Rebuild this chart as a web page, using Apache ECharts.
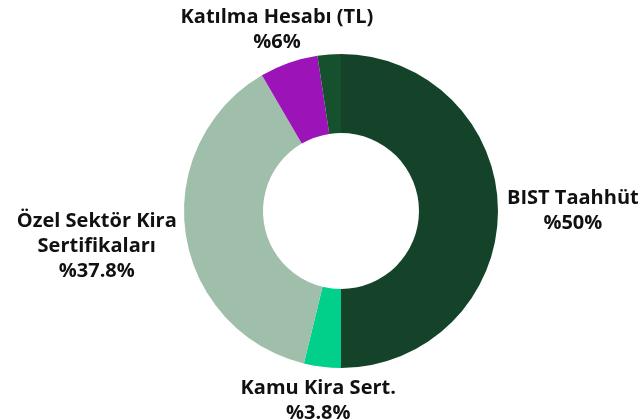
<!DOCTYPE html>
<html>
<head>
<meta charset="utf-8">
<script src="https://cdn.jsdelivr.net/npm/echarts@6/dist/echarts.min.js"></script>
<style>
  html, body { margin: 0; padding: 0; background: #fff; }
  #chart { width: 643px; height: 420px; }
</style>
</head>
<body>
<div id="chart"></div>
<script>
const categories = ['BIST Taahhüt', 'Kamu Kira Sert.', 'Özel Sektör Kira\nSertifikaları', 'Katılma Hesabı (TL)', 'Diğer'];
const values = [50, 3.8, 37.8, 6, 2.4];
const colors = ['#14432a', '#00d08a', '#a0bfaa', '#9c14b8', '#15512c'];
const showLabel = [true, true, true, true, false];

const cx = 341, cy = 211, rIn = 78, rOut = 157, gap = 9;
const total = values.reduce((a, b) => a + b, 0);

// mid angle of each slice, clockwise from top
let acc = 0;
const mids = values.map(v => {
    const m = (acc + v / 2) / total * Math.PI * 2;
    acc += v;
    return m;
});

let chart = echarts.init(document.getElementById('chart'));

chart.setOption({
    animation: false,
    series: [{
        type: 'pie',
        center: [cx, cy],
        radius: [rIn, rOut],
        startAngle: 90,
        avoidLabelOverlap: false,
        label: {
            show: true,
            position: 'outside',
            formatter: p => p.name + '\n%' + p.value + '%',
            fontFamily: 'Open Sans',
            fontWeight: 'bold',
            fontSize: 20,
            lineHeight: 25,
            color: '#111'
        },
        labelLine: { show: false },
        labelLayout: params => {
            const a = mids[params.dataIndex];
            const dx = Math.sin(a), dy = -Math.cos(a);
            const w = params.labelRect.width, h = params.labelRect.height;
            const ext = Math.min(
                Math.abs(dx) > 1e-6 ? w / 2 / Math.abs(dx) : Infinity,
                Math.abs(dy) > 1e-6 ? h / 2 / Math.abs(dy) : Infinity
            );
            return {
                x: cx + dx * (rOut + gap + ext),
                y: cy + dy * (rOut + gap + ext),
                align: 'center',
                verticalAlign: 'middle'
            };
        },
        data: categories.map((name, i) => ({
            name: name,
            value: values[i],
            itemStyle: { color: colors[i] },
            label: { show: showLabel[i] }
        }))
    }]
});
</script>
</body>
</html>
